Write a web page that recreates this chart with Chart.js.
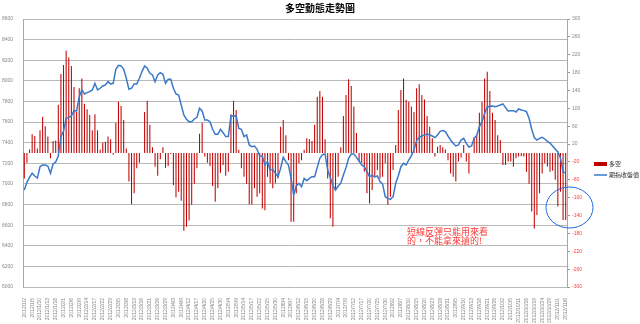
<!DOCTYPE html>
<html>
<head>
<meta charset="utf-8">
<script src="https://cdn.jsdelivr.net/npm/chart.js@4.4.0/dist/chart.umd.min.js"></script>
<style>
  html, body { margin: 0; padding: 0; background: #fff; }
  #wrap { width: 640px; height: 324px; position: relative; }
</style>
</head>
<body>
<div id="wrap"><canvas id="trend" width="640" height="324"></canvas></div>
<script>
// every third trading day gets a label on the x axis
const tickDates = [
  "2012/1/2", "2012/1/5", "2012/1/10", "2012/1/13", "2012/1/18", "2012/2/1", "2012/2/6", "2012/2/9",
  "2012/2/14", "2012/2/17", "2012/2/22", "2012/2/29", "2012/3/5", "2012/3/8", "2012/3/13", "2012/3/16",
  "2012/3/21", "2012/3/26", "2012/3/29", "2012/4/3", "2012/4/9", "2012/4/12", "2012/4/17", "2012/4/20",
  "2012/4/25", "2012/4/30", "2012/5/4", "2012/5/9", "2012/5/14", "2012/5/17", "2012/5/22", "2012/5/25",
  "2012/5/30", "2012/6/4", "2012/6/7", "2012/6/12", "2012/6/15", "2012/6/20", "2012/6/26", "2012/6/29",
  "2012/7/4", "2012/7/9", "2012/7/12", "2012/7/17", "2012/7/20", "2012/7/25", "2012/7/30", "2012/8/2",
  "2012/8/7", "2012/8/10", "2012/8/15", "2012/8/20", "2012/8/23", "2012/8/28", "2012/8/31", "2012/9/5",
  "2012/9/10", "2012/9/13", "2012/9/18", "2012/9/21", "2012/9/26", "2012/10/2", "2012/10/5", "2012/10/11",
  "2012/10/16", "2012/10/19", "2012/10/24", "2012/10/29", "2012/11/1", "2012/11/6"
];

// 多空 (right axis)
const netPos = [
  -57, -22, 8, 42, 38, 10, 51, 81, 60, 37, -12, 27, 28, 108, 177, 197, 229, 214, 195, 148,
  92, 145, 167, 110, 98, 85, 51, 87, 51, 7, 23, 25, 37, 31, -4, 68, 115, 105, 74, 10,
  -64, -115, -90, -34, -22, 0, 92, 117, 63, 13, -31, -51, -14, 13, -33, -29, -2, -72, -99, -87,
  -107, -174, -165, -151, -116, -69, -34, 43, 68, -8, -22, -29, -74, -109, -79, -44, -27, -51, -42, 87,
  117, 96, 7, -34, -53, -69, -115, -116, -79, -98, -90, -124, -128, -53, -68, -79, -68, -57, 59, 74,
  40, -16, -154, -154, -90, -23, -16, 7, 33, 31, 27, 63, 126, 139, 126, 31, -57, -146, -165, -83,
  -53, 13, 83, 130, 165, 150, 104, 45, -19, -22, -42, -90, -113, -83, -53, -38, -57, -53, -23, -116,
  -98, -38, 18, 96, 141, 167, 119, 115, 104, 92, 145, 154, 130, 120, 83, 59, 33, -8, 14, 18,
  13, 8, -16, -46, -53, -64, -19, -10, 18, -19, -46, 0, 35, 38, 90, 115, 167, 182, 139, 90,
  74, 40, 29, -27, -27, -19, -19, -31, -12, -8, -7, -8, -42, -69, -131, -169, -139, -90, -46, -23,
  -30, -42, -40, -60, -120, -87, -150, -150
];

// 期指收盤價 (left axis)
const closePx = [
  6941, 7015, 7064, 7103, 7077, 7057, 7167, 7183, 7183, 7174, 7103, 7193, 7213, 7271, 7459, 7514, 7637, 7646, 7659, 7711,
  7708, 7847, 7912, 7873, 7886, 7895, 7912, 7976, 7912, 7928, 7950, 7960, 7992, 7970, 7976, 8112, 8151, 8145, 8112, 8025,
  7918, 7928, 7970, 7970, 8025, 8090, 8145, 8122, 8073, 8057, 7992, 8057, 8080, 8064, 7976, 8015, 8015, 7928, 7873, 7863,
  7766, 7669, 7627, 7604, 7604, 7630, 7646, 7734, 7708, 7620, 7620, 7604, 7530, 7481, 7481, 7530, 7497, 7459, 7459, 7659,
  7662, 7659, 7539, 7530, 7459, 7475, 7378, 7361, 7368, 7336, 7271, 7271, 7184, 7216, 7135, 7141, 7103, 7070, 7151, 7258,
  7216, 7184, 7054, 6892, 6980, 7006, 6973, 7054, 7031, 7054, 7070, 7070, 7161, 7248, 7284, 7290, 7135, 7064, 6980, 6941,
  6980, 7006, 7086, 7158, 7248, 7290, 7290, 7258, 7222, 7184, 7167, 7119, 7070, 7083, 7067, 7077, 7022, 6999, 6876, 6860,
  6850, 6876, 7006, 7080, 7167, 7200, 7184, 7232, 7274, 7329, 7420, 7452, 7465, 7475, 7484, 7475, 7465, 7449, 7475, 7510,
  7517, 7507, 7465, 7426, 7394, 7368, 7378, 7426, 7442, 7394, 7358, 7368, 7442, 7472, 7556, 7604, 7685, 7747, 7753, 7756,
  7750, 7756, 7766, 7776, 7740, 7708, 7711, 7711, 7698, 7727, 7717, 7711, 7701, 7637, 7530, 7449, 7426, 7442, 7452, 7436,
  7413, 7397, 7368, 7339, 7310, 7251, 7116, 7106
];

const labels = netPos.map((v, i) => (i % 3 === 0 ? tickDates[i / 3] : ""));

const BAR_RED = "#c00000";
const LINE_BLUE = "#3b78c8";

// title, legend, note and the circle around the latest bars
const extras = {
  id: "extras",
  afterDraw(chart) {
    const c = chart.ctx;
    c.save();
    c.textBaseline = "middle";

    c.fillStyle = "#000";
    c.font = 'bold 10px "Noto Sans CJK TC"';
    c.textAlign = "center";
    c.fillText("多空動態走勢圖", 320, 8);

    c.textAlign = "left";
    c.fillStyle = BAR_RED;
    c.fillRect(594, 162, 13, 4);
    c.strokeStyle = LINE_BLUE;
    c.lineWidth = 1.5;
    c.beginPath();
    c.moveTo(594, 175);
    c.lineTo(607, 175);
    c.stroke();
    c.fillStyle = "#333";
    c.font = '6px "Noto Sans CJK TC"';
    c.fillText("多空", 609, 164);
    c.fillText("期指收盤價", 609, 175);

    c.fillStyle = "#ff3b3b";
    c.font = '9px "Noto Sans CJK TC"';
    c.fillText("短線反彈只能用來看", 407, 232);
    c.fillText("的，不能拿來搶的!", 407, 241);

    c.strokeStyle = "#1f66e0";
    c.lineWidth = 1;
    c.beginPath();
    c.ellipse(569.5, 207.5, 23.5, 20.5, 0, 0, Math.PI * 2);
    c.stroke();
    c.restore();
  }
};

new Chart(document.getElementById("trend"), {
  data: {
    labels: labels,
    datasets: [
      {
        type: "line",
        label: "期指收盤價",
        data: closePx,
        yAxisID: "y",
        borderColor: LINE_BLUE,
        borderWidth: 1.5,
        pointRadius: 0,
        tension: 0,
        order: 1
      },
      {
        type: "bar",
        label: "多空",
        data: netPos,
        yAxisID: "y1",
        backgroundColor: BAR_RED,
        barPercentage: 0.4,
        categoryPercentage: 1,
        order: 2
      }
    ]
  },
  options: {
    responsive: false,
    animation: false,
    layout: { padding: { top: 19, right: 48, left: 0, bottom: 0 } },
    plugins: { legend: { display: false }, tooltip: { enabled: false } },
    scales: {
      x: {
        grid: { display: false },
        border: { display: false },
        ticks: {
          autoSkip: false,
          maxRotation: 90,
          minRotation: 90,
          color: "#888",
          padding: 3,
          font: { size: 5, family: "Liberation Sans" }
        },
        afterFit(s) { s.height = 37; }
      },
      y: {
        position: "left",
        min: 6000,
        max: 8600,
        ticks: {
          stepSize: 200,
          color: "#888",
          padding: 10,
          font: { size: 5, family: "Liberation Sans" },
          callback: (v) => String(v)
        },
        grid: { color: "#b8b8b8", drawTicks: false },
        border: { color: "#a8a8a8" },
        afterFit(s) { s.width = 23; }
      },
      y1: {
        position: "right",
        min: -300,
        max: 300,
        ticks: {
          stepSize: 20,
          padding: 2,
          color: (ctx) => (ctx.tick.value < 0 ? "#ff4040" : "#888"),
          font: { size: 5, family: "Liberation Sans" },
          callback: (v) => String(v)
        },
        grid: { drawOnChartArea: false, tickLength: 3, color: "#999" },
        border: { color: "#a8a8a8" },
        afterFit(s) { s.width = 25; }
      }
    }
  },
  plugins: [extras]
});
</script>
</body>
</html>
